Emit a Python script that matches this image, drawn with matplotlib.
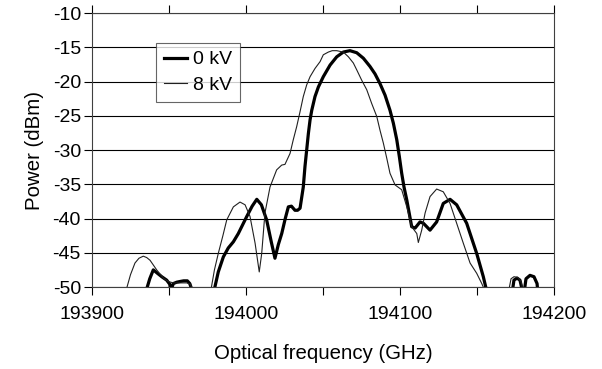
import numpy as np
import matplotlib
matplotlib.use("Agg")
import matplotlib.pyplot as plt

plt.rcParams['font.family'] = ['Liberation Sans', 'DejaVu Sans']
plt.rcParams['axes.unicode_minus'] = False

# ---- data: 0 kV (thick) ----
f0_left = [193935.1, 193937.5, 193939.8, 193942.5, 193945.3, 193948.5, 193950.5, 193951.1,
           193952.8, 193955.0, 193957.1, 193959.5, 193961.9, 193963.5, 193964.7]
p0_left = [-50.6, -48.8, -47.5, -48.0, -48.5, -49.0, -49.6, -50.6,
           -49.5, -49.3, -49.2, -49.1, -49.1, -49.5, -50.3]

f0_main = [193979.2, 193982.0, 193985.3, 193988.5, 193991.8, 193995.0, 194000.5, 194004.0,
           194007.0, 194010.0, 194013.4, 194016.5, 194018.8, 194021.0, 194023.2, 194025.5,
           194027.5, 194029.5, 194031.8, 194033.5, 194035.1, 194037.2, 194038.3, 194039.4,
           194040.5, 194041.6, 194042.7, 194044.8, 194047.0, 194050.2, 194054.6, 194058.9,
           194063.2, 194067.5, 194071.9, 194076.2, 194080.5, 194083.8, 194087.0, 194090.3,
           194093.5, 194095.7, 194097.9, 194099.6, 194101.1, 194102.6, 194104.4, 194107.6,
           194109.8, 194113.0, 194115.2, 194119.5, 194123.8, 194128.1, 194132.5, 194136.8,
           194143.3, 194149.8, 194154.1, 194156.3]
p0_main = [-50.6, -47.8, -45.6, -44.3, -43.4, -42.2, -39.7, -38.2,
           -37.2, -38.0, -40.2, -43.5, -45.8, -43.8, -42.2, -40.0,
           -38.3, -38.2, -38.8, -38.8, -38.5, -35.4, -32.4, -30.0,
           -27.6, -25.6, -24.2, -22.2, -20.8, -19.3, -17.6, -16.4,
           -15.7, -15.5, -15.8, -16.6, -17.8, -18.9, -20.3, -22.0,
           -24.2, -26.1, -28.5, -31.0, -33.4, -35.4, -37.3, -41.2,
           -41.4, -40.5, -40.7, -41.7, -40.5, -37.8, -37.2, -38.0,
           -40.7, -45.1, -48.5, -50.6]

f0_right = [194172.7, 194174.0, 194176.0, 194177.9, 194179.9, 194180.5, 194181.8,
            194184.4, 194187.0, 194189.0, 194189.6]
p0_right = [-51.0, -49.0, -48.7, -49.0, -51.0, -51.0, -48.8,
            -48.3, -48.5, -49.5, -51.0]

# ---- data: 8 kV (thin) ----
f8_left = [193922.5, 193925.0, 193927.9, 193930.5, 193933.3, 193935.5, 193937.7, 193942.0,
           193946.3, 193949.5, 193952.8, 193957.0, 193961.5, 193964.0, 193965.4]
p8_left = [-50.2, -48.2, -46.5, -45.8, -45.5, -45.7, -46.1, -47.5,
           -48.7, -49.2, -49.4, -49.4, -49.4, -49.6, -50.6]

f8_main = [193977.1, 193979.5, 193982.0, 193985.0, 193987.5, 193991.8, 193996.1, 193999.4,
           194002.6, 194005.9, 194008.6, 194010.2, 194012.3, 194015.6, 194019.9, 194023.2,
           194025.3, 194028.6, 194030.7, 194032.9, 194035.1, 194037.2, 194039.4, 194041.6,
           194044.8, 194048.1, 194050.2, 194053.5, 194056.0, 194058.9, 194061.0, 194063.2,
           194066.5, 194069.7, 194071.9, 194075.1, 194078.4, 194081.6, 194084.9, 194087.0,
           194089.2, 194091.4, 194093.5, 194096.8, 194101.1, 194104.4, 194107.6, 194110.9,
           194111.9, 194114.1, 194116.3, 194119.5, 194123.8, 194128.1, 194132.5, 194136.8,
           194141.1, 194145.5, 194149.8, 194153.1, 194155.2]
p8_main = [-50.6, -47.5, -45.1, -42.5, -40.2, -38.3, -37.6, -38.0,
           -39.7, -43.6, -47.8, -45.1, -39.2, -35.4, -32.9, -32.2,
           -32.1, -30.5, -28.5, -26.6, -24.4, -22.2, -20.5, -19.3,
           -18.1, -17.1, -16.1, -15.7, -15.5, -15.5, -15.6, -15.7,
           -16.4, -17.3, -18.3, -19.8, -21.2, -23.2, -25.1, -27.1,
           -29.0, -31.2, -33.4, -35.1, -35.8, -38.3, -41.2, -42.2,
           -43.5, -41.7, -39.2, -36.8, -35.7, -36.1, -37.8, -40.7,
           -43.6, -46.5, -48.0, -49.5, -50.6]

f8_right = [194170.8, 194172.1, 194174.0, 194176.6, 194178.6, 194179.9]
p8_right = [-50.3, -48.8, -48.5, -48.6, -49.2, -50.5]

xticks = [193900, 194000, 194100, 194200]
yticks = [-50, -45, -40, -35, -30, -25, -20, -15, -10]

fig = plt.figure(figsize=(6.02, 3.69), dpi=100)
ax = fig.add_axes([92/602, 1-287/369, (554-92)/602, (287-13)/369])

thick = dict(color='black', lw=2.3, solid_joinstyle='round')
thin = dict(color='#202020', lw=0.8)

ax.plot(f0_main, p0_main, label='0 kV', **thick)
ax.plot(f0_left, p0_left, **thick)
ax.plot(f0_right, p0_right, **thick)
ax.plot(f8_main, p8_main, label='8 kV', **thin)
ax.plot(f8_left, p8_left, **thin)
ax.plot(f8_right, p8_right, **thin)

ax.set_xlim(193900, 194200)
ax.set_ylim(-50, -10)
ax.set_xticks(xticks)
ax.set_xticks([193950, 194050, 194150], minor=True)
ax.set_yticks(yticks)
ax.yaxis.grid(True, color='black', lw=0.8)
ax.set_axisbelow(True)
for s in ax.spines.values():
    s.set_color('#404040')
    s.set_linewidth(0.8)

ax.tick_params(axis='both', which='both', direction='out', length=6, width=0.8,
               labelsize=14, colors='black')
ax.tick_params(axis='x', which='both', top=True, pad=8)
ax.tick_params(axis='y', pad=2)

ax.set_xlabel('Optical frequency (GHz)', fontsize=14.7, labelpad=15)
ax.set_ylabel('Power (dBm)', fontsize=14.7, labelpad=6)

leg = ax.legend(loc='upper left', bbox_to_anchor=((156-92)/462, (287-43)/274),
                borderaxespad=0, fontsize=14, frameon=True, fancybox=False,
                handlelength=1.2, handletextpad=0.3, labelspacing=0.4,
                borderpad=0.4)
leg.get_frame().set_edgecolor('#404040')
leg.get_frame().set_linewidth(0.8)

fig.savefig('out.png', dpi=100)
